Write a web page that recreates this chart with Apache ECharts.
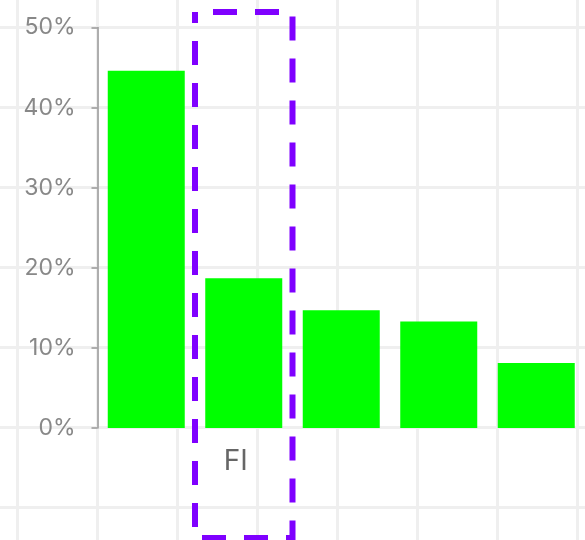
<!DOCTYPE html>
<html>
<head>
<meta charset="utf-8">
<script src="https://cdn.jsdelivr.net/npm/echarts@6/dist/echarts.min.js"></script>
<style>
html,body{margin:0;padding:0;width:585px;height:540px;overflow:hidden;}
body{
  background-color:#fff;
  background-image:
    linear-gradient(to right, #efefef 3px, transparent 3px),
    linear-gradient(to bottom, #efefef 3px, transparent 3px);
  background-size:80px 80px;
  background-position:16px 26px;
}
#chart{width:585px;height:540px;}
</style>
</head>
<body>
<div id="chart"></div>
<script>
var categories = ["", "FI", "", "", ""];
var values = [44.6, 18.7, 14.7, 13.3, 8.1];
var yTicks = { min: 0, max: 50, interval: 10 };
var highlightIndex = 1;

var chart = echarts.init(document.getElementById('chart'), null, {renderer: 'canvas'});
chart.setOption({
  backgroundColor: 'transparent',
  animation: false,
  grid: { left: 97.5, width: 490, top: 27.5, bottom: 112, containLabel: false },
  xAxis: {
    type: 'category',
    data: categories,
    axisLine: { show: false },
    axisTick: { show: false },
    splitLine: { show: false },
    axisLabel: { color: '#666', fontSize: 28, margin: 20, fontFamily: 'Inter, sans-serif', interval: 0, padding: [0, 16, 0, 0] }
  },
  yAxis: {
    type: 'value',
    min: yTicks.min, max: yTicks.max, interval: yTicks.interval,
    axisLine: { show: true, lineStyle: { color: '#999', width: 1.5 } },
    axisTick: { show: true, length: 6, lineStyle: { color: '#999', width: 1.5 } },
    splitLine: { show: false },
    axisLabel: { formatter: '{value}%', color: '#888', fontSize: 23, margin: 22, fontFamily: 'Inter, sans-serif' }
  },
  series: [{
    type: 'bar',
    data: values,
    barWidth: 77,
    itemStyle: { color: '#00ff00' }
  }]
});

var cx = chart.convertToPixel({ xAxisIndex: 0 }, highlightIndex);
var c0 = chart.convertToPixel({ xAxisIndex: 0 }, 0);
var band = cx - c0;
chart.setOption({
  graphic: [{
    type: 'rect',
    shape: { x: cx - band / 2, y: 12, width: band, height: 526 },
    style: { fill: 'none', stroke: '#7f00ff', lineWidth: 6, lineDash: [24, 18], lineDashOffset: 24 },
    z: 100
  }]
});
</script>
</body>
</html>
